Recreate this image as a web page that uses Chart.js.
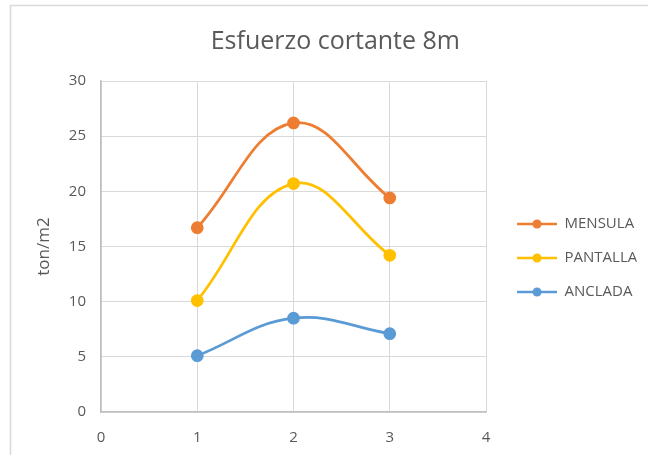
<!DOCTYPE html>
<html>
<head>
<meta charset="utf-8">
<script src="https://cdn.jsdelivr.net/npm/chart.js@4.4.1/dist/chart.umd.min.js"></script>
<style>
  html, body { margin: 0; padding: 0; background: #ffffff; overflow: hidden; }
  #wrap { position: relative; width: 648px; height: 455px; }
</style>
</head>
<body>
<div id="wrap"><canvas id="chart" width="648" height="455"></canvas></div>
<script>
// Sample positions along the x axis
const positions = [1, 2, 3];

// Shear stress per wall type (ton/m2)
const mensula  = [16.7, 26.2, 19.4];
const pantalla = [10.1, 20.7, 14.2];
const anclada  = [5.1, 8.5, 7.1];

const seriesNames  = ['MENSULA', 'PANTALLA', 'ANCLADA'];
const seriesColors = ['#ED7D31', '#FFC000', '#5B9BD5'];

const TEXT = '#595959';
const GRID = '#D9D9D9';
const FONT = "'Open Sans', 'Liberation Sans', sans-serif";

// Legend marker: short line with a dot in the middle (left part kept blank as spacing)
function lineMarker(color) {
  const c = document.createElement('canvas');
  c.width = 52; c.height = 12;
  const g = c.getContext('2d');
  g.strokeStyle = color; g.lineWidth = 2.5;
  g.beginPath(); g.moveTo(12, 6); g.lineTo(52, 6); g.stroke();
  g.fillStyle = color;
  g.beginPath(); g.arc(32, 6, 4.5, 0, Math.PI * 2); g.fill();
  return c;
}

function toPoints(values) {
  return values.map((v, i) => ({ x: positions[i], y: v }));
}

const allValues = [mensula, pantalla, anclada];
const datasets = allValues.map((vals, i) => ({
  label: seriesNames[i],
  data: toPoints(vals),
  borderColor: seriesColors[i],
  backgroundColor: seriesColors[i],
  pointBackgroundColor: seriesColors[i],
  pointBorderColor: seriesColors[i],
  pointStyle: 'circle',
  pointRadius: 5,
  pointHoverRadius: 5,
  borderWidth: 2.75,
  tension: 0.4,
  fill: false
}));

// Chart frame: thin border along the top and left edges
const framePlugin = {
  id: 'frame',
  beforeDraw(chart) {
    const ctx = chart.ctx;
    ctx.save();
    ctx.fillStyle = '#ffffff';
    ctx.fillRect(0, 0, chart.width, chart.height);
    ctx.strokeStyle = GRID;
    ctx.lineWidth = 1.5;
    ctx.beginPath();
    ctx.moveTo(10.5, chart.height);
    ctx.lineTo(10.5, 5.5);
    ctx.lineTo(chart.width, 5.5);
    ctx.stroke();
    ctx.restore();
  }
};

new Chart(document.getElementById('chart'), {
  type: 'line',
  data: { datasets },
  plugins: [framePlugin],
  options: {
    responsive: false,
    animation: false,
    events: [],
    layout: { padding: { left: 34, right: 11.3, top: 0, bottom: 0 } },
    plugins: {
      title: {
        display: true,
        text: 'Esfuerzo cortante 8m',
        color: TEXT,
        font: { family: FONT, size: 25, weight: 'normal' },
        padding: { top: 27, bottom: 24 }
      },
      legend: {
        position: 'right',
        align: 'start',
        title: {
          display: true,
          text: ' ',
          font: { family: FONT, size: 10 },
          padding: { top: 185.5, bottom: 0 }
        },
        labels: {
          color: TEXT,
          font: { family: FONT, size: 15 },
          usePointStyle: true,
          pointStyleWidth: 52,
          padding: 19,
          generateLabels(chart) {
            return chart.data.datasets.map((ds, i) => ({
              text: ds.label,
              fontColor: TEXT,
              pointStyle: lineMarker(ds.borderColor),
              fillStyle: ds.borderColor,
              strokeStyle: ds.borderColor,
              lineWidth: 0,
              hidden: false,
              datasetIndex: i
            }));
          }
        }
      },
      tooltip: { enabled: false }
    },
    scales: {
      x: {
        type: 'linear',
        min: 0,
        max: 4,
        ticks: { stepSize: 1, color: TEXT, font: { family: FONT, size: 15 }, padding: 17 },
        grid: { color: GRID, drawTicks: false },
        border: { color: '#BFBFBF', width: 1.5 },
        afterFit(s) { s.height = 43; }
      },
      y: {
        type: 'linear',
        min: 0,
        max: 30,
        ticks: { stepSize: 5, color: TEXT, font: { family: FONT, size: 15 }, padding: 15 },
        grid: { color: GRID, drawTicks: false },
        border: { color: '#BFBFBF', width: 1.5 },
        title: {
          display: true,
          text: 'ton/m2',
          color: TEXT,
          font: { family: FONT, size: 17 },
          padding: { top: 0, bottom: 0 }
        },
        afterFit(s) { s.width = 67; }
      }
    }
  }
});
</script>
</body>
</html>
